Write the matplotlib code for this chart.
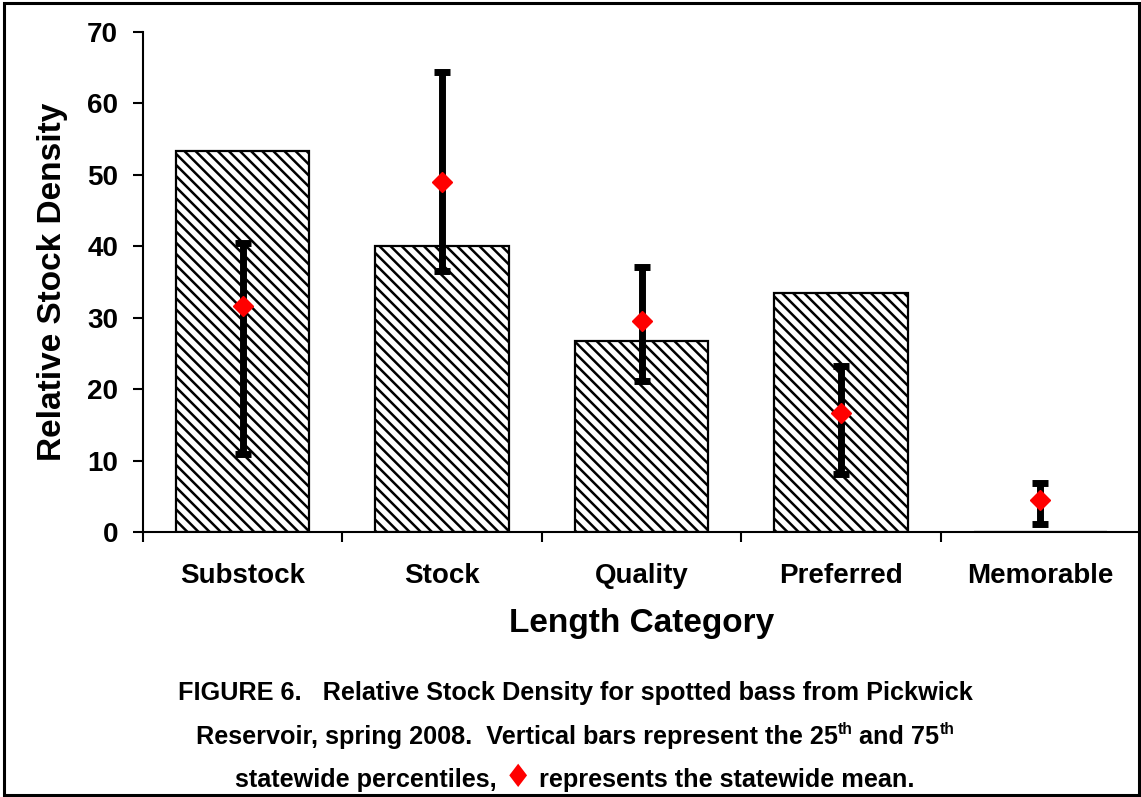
import matplotlib
matplotlib.use('Agg')
import matplotlib.pyplot as plt
from matplotlib import font_manager
from matplotlib.patches import Rectangle

categories = ['Substock', 'Stock', 'Quality', 'Preferred', 'Memorable']
rsd_values = [53.4, 40.1, 26.7, 33.4, 0.0]
pct25 = [10.9, 36.5, 21.1, 8.1, 1.1]
pct75 = [40.5, 64.4, 37.1, 23.2, 6.9]
means = [31.6, 49.0, 29.5, 16.7, 4.5]
y_ticks = [0, 10, 20, 30, 40, 50, 60, 70]

names = {f.name for f in font_manager.fontManager.ttflist}
main_font = 'Liberation Sans' if 'Liberation Sans' in names else 'DejaVu Sans'
cap_font = 'Liberation Sans Narrow' if 'Liberation Sans Narrow' in names else main_font

plt.rcParams['font.family'] = [main_font, 'DejaVu Sans']
plt.rcParams['font.weight'] = 'bold'
plt.rcParams['hatch.linewidth'] = 1.8

W, H = 1141, 797
fig = plt.figure(figsize=(W / 100, H / 100), dpi=100)
ax = fig.add_axes([143 / W, 1 - 532 / H, (1140 - 143) / W, (532 - 32) / H])

x = list(range(len(categories)))
ax.bar(x, rsd_values, width=0.67, color='white', edgecolor='black',
       linewidth=1.6, hatch='\\' * 3, zorder=2)

lower = [m - p for m, p in zip(means, pct25)]
upper = [p - m for m, p in zip(means, pct75)]
ax.errorbar(x, means, yerr=[lower, upper], fmt='none', ecolor='black',
            elinewidth=5, capsize=6, capthick=5, zorder=3)
ax.plot(x, means, linestyle='none', marker='D', markersize=10.5,
        color='#ff0000', markeredgecolor='#ff0000', zorder=4)

ax.set_xlim(-0.5, len(categories) - 0.5)
ax.set_ylim(0, 70)
ax.set_yticks(y_ticks)
ax.set_yticklabels([str(t) for t in y_ticks], fontsize=20, fontweight='bold')
ax.set_xticks(x)
ax.set_xticklabels(categories, fontsize=20, fontweight='bold')
ax.set_xticks([i - 0.5 for i in range(len(categories) + 1)], minor=True)
ax.tick_params(axis='x', which='major', length=0, pad=22)
ax.tick_params(axis='x', which='minor', direction='out', length=7, width=1.5)
ax.tick_params(axis='y', direction='out', length=7, width=1.5, pad=11)

for s in ['top', 'right']:
    ax.spines[s].set_visible(False)
for s in ['left', 'bottom']:
    ax.spines[s].set_linewidth(1.5)

ax.set_ylabel('Relative Stock Density', fontsize=24, fontweight='bold', labelpad=14)
ax.set_xlabel('Length Category', fontsize=24, fontweight='bold', labelpad=14)

# outer border
fig.patches.append(Rectangle((4 / W, 2 / H), (1139 - 4) / W, (794 - 2) / H,
                             transform=fig.transFigure, fill=False,
                             edgecolor='black', linewidth=2.2, zorder=10))

# caption
renderer = fig.canvas.get_renderer()
cap_fs = 18.2


def measure(s, fs, family):
    t = fig.text(0, 0, s, fontsize=fs, fontweight='bold', family=family)
    w = t.get_window_extent(renderer).width
    t.remove()
    return w


def draw_line(y_px, segments, xc_px):
    parts = []
    total = 0.0
    for s, kind, color in segments:
        if kind == 'sup':
            fs = cap_fs * 0.62
        elif kind == 'big':
            fs = cap_fs * 1.25
        else:
            fs = cap_fs
        fam = ['DejaVu Sans'] if kind == 'big' else [cap_font, 'DejaVu Sans']
        lead = len(s) - len(s.lstrip(' '))
        trail = len(s) - len(s.rstrip(' '))
        core = s.strip(' ')
        sp = measure('x x', cap_fs, [cap_font]) - measure('xx', cap_fs, [cap_font])
        wcore = measure(core, fs, fam) if core else 0
        total += lead * sp
        parts.append((core, fs, fam, color, kind, total))
        total += wcore + trail * sp
    x0 = xc_px - total / 2
    for core, fs, fam, color, kind, off in parts:
        yy = y_px - (10 if kind == 'sup' else 0)
        fig.text((x0 + off) / W, 1 - yy / H, core, fontsize=fs,
                 fontweight='bold', family=fam, color=color,
                 ha='left', va='baseline')


xc = 575
draw_line(700, [('FIGURE 6.   Relative Stock Density for spotted bass from Pickwick', 'n', 'black')], xc)
draw_line(744, [('Reservoir, spring 2008.  Vertical bars represent the 25', 'n', 'black'),
                ('th', 'sup', 'black'),
                (' and 75', 'n', 'black'),
                ('th', 'sup', 'black')], xc)
draw_line(787, [('statewide percentiles, ', 'n', 'black'),
                ('\u2666', 'big', '#ff0000'),
                (' represents the statewide mean.', 'n', 'black')], xc)

fig.savefig('out.png', dpi=100, facecolor='white')
